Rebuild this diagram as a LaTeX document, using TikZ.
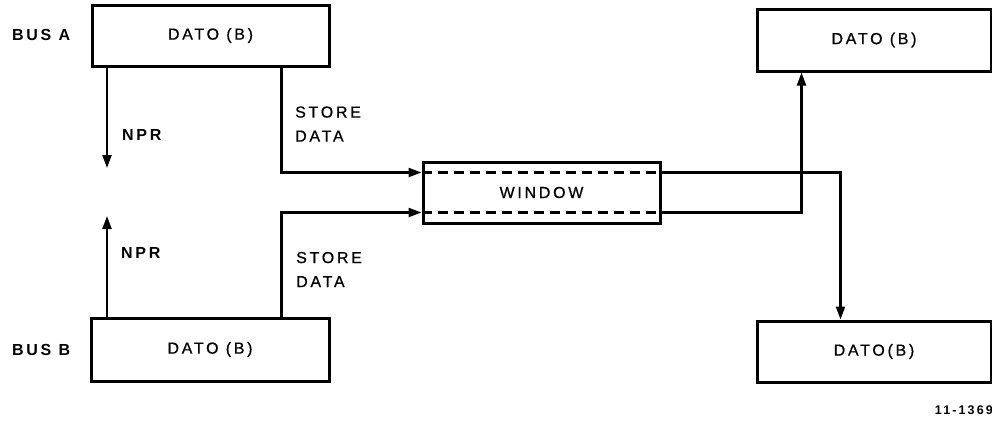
\documentclass[tikz,border=0pt]{standalone}
\usepackage{fontspec}
\setmainfont{Liberation Sans}[LetterSpace=17]
\newfontfamily\medfont{Liberation Sans}[LetterSpace=17,FakeBold=0.7]
\usetikzlibrary{arrows.meta}
\begin{document}
\begin{tikzpicture}[x=1pt,y=-1pt,
  box/.style={draw,line width=3pt,inner sep=0pt,font=\fontsize{16}{19}\medfont},
  conn/.style={line width=2.2pt},
  arr/.style={conn,-{Triangle[length=13pt,width=9pt]}},
  dashln/.style={conn,dash pattern=on 10pt off 6pt},
  lbl/.style={inner sep=0pt,anchor=west,align=left,font=\fontsize{16}{24}\medfont},
  blbl/.style={lbl,font=\fontsize{16}{24}\selectfont\bfseries},
]
\useasboundingbox (0,0) rectangle (992,423);
\node[box,minimum width=237pt,minimum height=61pt] (busA) at (210.5,35.5) {DATO (B)};
\node[box,minimum width=238pt,minimum height=63pt] (busB) at (210,349.5) {DATO (B)};
\node[box,minimum width=237pt,minimum height=61pt] (win) at (541.5,192.5) {WINDOW};
\node[box,minimum width=234pt,minimum height=62pt] (tr) at (874,40) {DATO (B)};
\node[box,minimum width=234pt,minimum height=61pt] (br) at (874,351.5) {DATO(B)};

\node[blbl] (labA) at (12,35) {BUS A};
\node[blbl] (labB) at (12,350) {BUS B};
\node[blbl] (nprA) at (122,135) {NPR};
\node[blbl] (nprB) at (121,253) {NPR};
\node[lbl] (sdA) at (295,124) {STORE\\DATA};
\node[lbl] (sdB) at (296,269.5) {STORE\\DATA};
\node[inner sep=0pt,anchor=east,font=\fontsize{12.5}{14}\selectfont\bfseries] (num) at (993,410) {11-1369};

\coordinate (nprAend) at (107,168);
\coordinate (nprBend) at (107,216);
\draw[arr] (busA.south -| nprAend) -- (nprAend);
\draw[arr] (busB.north -| nprBend) -- (nprBend);

\coordinate (winTL) at ([yshift=20pt]win.west);
\coordinate (winBL) at ([yshift=-20pt]win.west);
\coordinate (winTR) at ([yshift=20pt]win.east);
\coordinate (winBR) at ([yshift=-20pt]win.east);

\draw[arr] ([xshift=191pt]busA.south west) |- (winTL);
\draw[arr] ([xshift=192pt]busB.north west) |- (winBL);
\draw[dashln] (winTL) -- (winTR);
\draw[dashln] (winBL) -- (winBR);
\draw[arr] (winTR) -| ([xshift=85pt]br.north west);
\draw[arr] (winBR) -| ([xshift=46pt]tr.south west);
\end{tikzpicture}
\end{document}
